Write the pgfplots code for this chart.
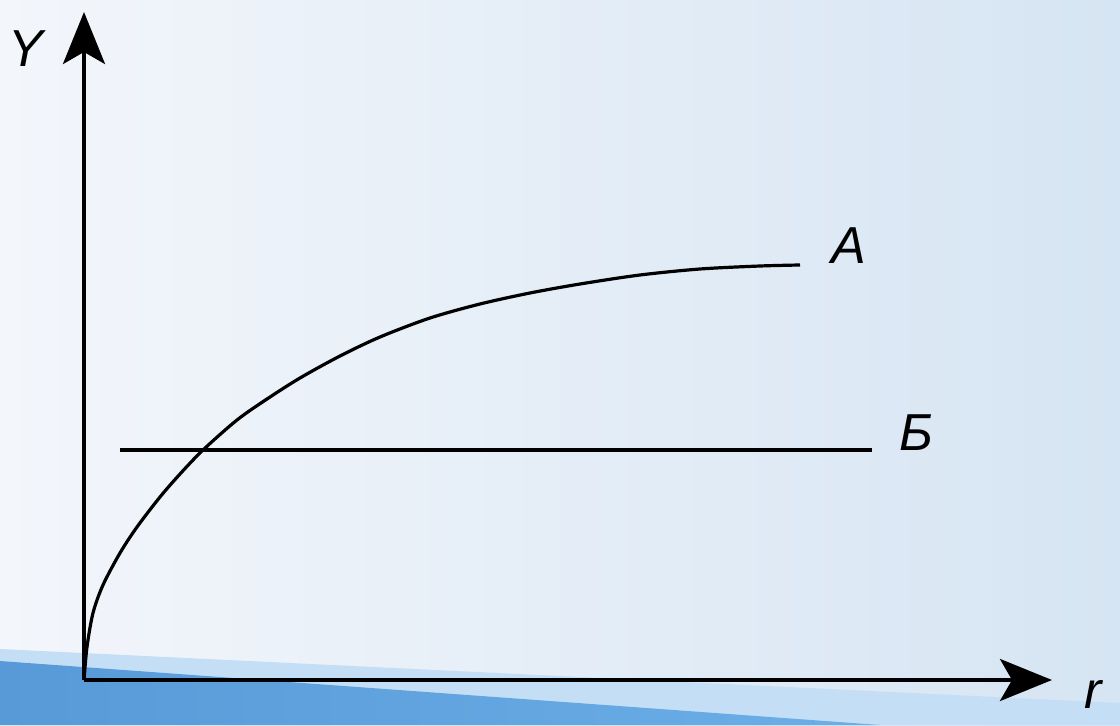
\documentclass[border=0pt]{standalone}
\usepackage{pgfplots}
\pgfplotsset{compat=1.18}
\usepackage{fontspec}
\setmainfont{Liberation Sans}
\usetikzlibrary{arrows.meta}
\definecolor{bgA}{RGB}{243,246,251}
\definecolor{bgB}{RGB}{214,229,243}
\definecolor{bandL}{RGB}{196,223,245}
\definecolor{bandD}{RGB}{88,154,216}
\definecolor{bandD2}{RGB}{108,174,230}
\newcommand{\lab}{\fontsize{26}{30}\selectfont\itshape}
\begin{document}
\begin{tikzpicture}
\clip (0,0) rectangle (560pt,362.5pt);
\shade[left color=bgA, right color=bgB] (0,0) rectangle (560pt,362.5pt);
\fill[bandL] (0,38pt) -- (560pt,11pt) -- (560pt,0) -- (0,0) -- cycle;
\shade[left color=bandD, right color=bandD2] (0,32pt) -- (440pt,0) -- (0,0) -- cycle;
\begin{axis}[
  at={(42pt,22.5pt)}, anchor=origin,
  scale only axis, width=484pt, height=334pt,
  xmin=0, xmax=968, ymin=0, ymax=668,
  axis lines=left, xtick=\empty, ytick=\empty,
  axis line style={line width=1.9pt, black, -{Stealth[length=26pt,width=21pt,inset=6pt]}},
  clip=false
]
\addplot[black, line width=1.6pt, smooth] coordinates {
(0,0) (3,33) (9,67) (19,95) (36,127) (53,153) (76,183) (96,206)
(119,230) (153,260) (183,281) (216,302) (256,324) (296,343)
(346,362) (396,376) (446,387) (496,396) (556,405) (616,411) (676,414) (716,415)};
\addplot[black, line width=1.6pt] coordinates {(36,230) (788,230)};
\node[font=\lab] at (axis cs:765,434) {A};
\node[font=\lab] at (axis cs:832,247) {Б};
\node[font=\lab] at (axis cs:-58,631) {Y};
\node[font=\lab, anchor=base west, inner sep=0pt] at (axis cs:1000,-28) {r};
\end{axis}
\end{tikzpicture}
\end{document}
